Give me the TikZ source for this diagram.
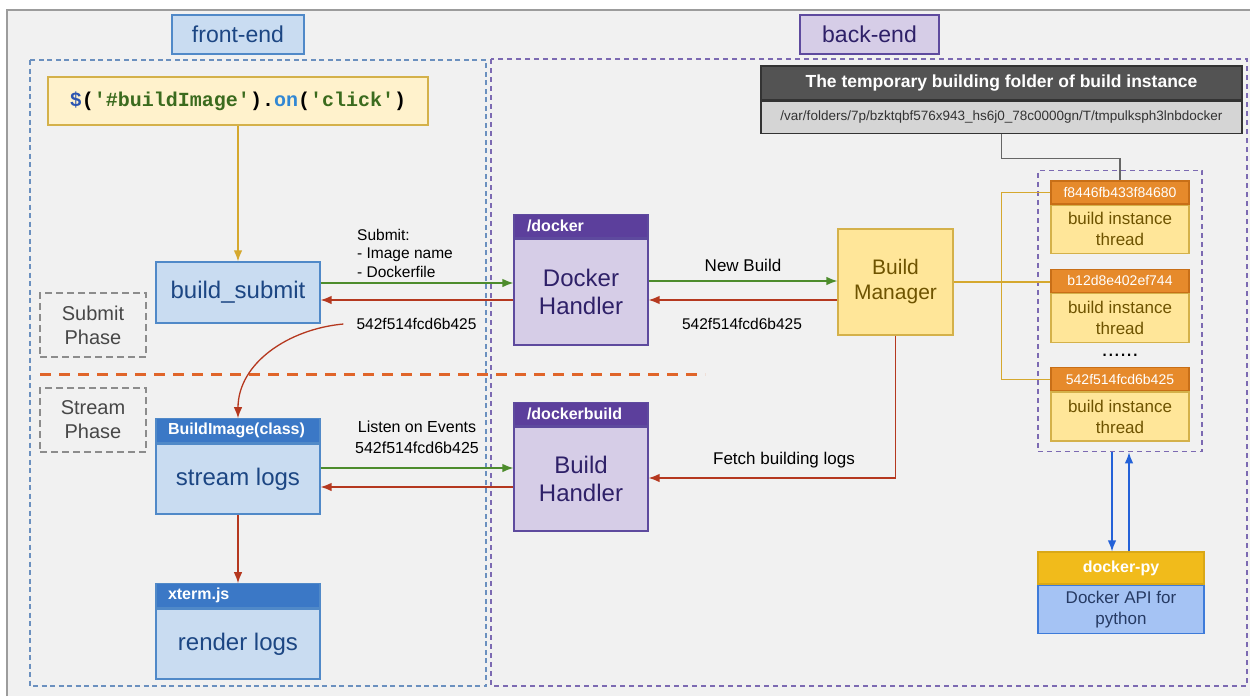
\documentclass[tikz,border=0pt]{standalone}
\usepackage{fontspec}
\setmainfont{Liberation Sans}
\setmonofont{Liberation Mono}
\usetikzlibrary{arrows,arrows.meta,shapes,positioning,fit}

\definecolor{panelbg}{HTML}{F1F1F1}
\definecolor{panelline}{HTML}{9C9C9C}
\definecolor{bfill}{HTML}{C9DCF1}
\definecolor{bline}{HTML}{5089C8}
\definecolor{bhead}{HTML}{3B78C6}
\definecolor{btext}{HTML}{1C4683}
\definecolor{pfill}{HTML}{D6CDE7}
\definecolor{pline}{HTML}{5E4A9E}
\definecolor{phead}{HTML}{5C3F9C}
\definecolor{ptext}{HTML}{2E2068}
\definecolor{yfill}{HTML}{FFE699}
\definecolor{yline}{HTML}{D4B14A}
\definecolor{ytext}{HTML}{6E5300}
\definecolor{cfill}{HTML}{FFF2CC}
\definecolor{ohead}{HTML}{E68A2B}
\definecolor{oline}{HTML}{C86F17}
\definecolor{gold}{HTML}{D5A82E}
\definecolor{pyhead}{HTML}{F1BB1B}
\definecolor{pyline}{HTML}{3E7BD9}
\definecolor{pyfill}{HTML}{A5C3F4}
\definecolor{pytext}{HTML}{263A63}
\definecolor{arrowgreen}{HTML}{4D8C2C}
\definecolor{arrowred}{HTML}{B5381F}
\definecolor{arrowblue}{HTML}{2462D8}
\definecolor{splitline}{HTML}{E0652A}
\definecolor{fdash}{HTML}{6B90BF}
\definecolor{bdash}{HTML}{7C6AB2}
\definecolor{fhead}{HTML}{535353}
\definecolor{ffill}{HTML}{D5D5D5}
\definecolor{codeblue}{HTML}{2C55B1}
\definecolor{codelblue}{HTML}{3288D4}
\definecolor{codegreen}{HTML}{3B6B1E}

\tikzstyle{title} = [line width=1.2pt, minimum height=39pt, inner sep=0pt, font=\fontsize{23}{27}\selectfont]
\tikzstyle{codebox} = [draw=yline, fill=cfill, line width=1.2pt, minimum width=380pt, minimum height=48pt, inner sep=0pt, font=\ttfamily\bfseries\fontsize{20}{24}\selectfont]
\tikzstyle{bluebox} = [draw=bline, fill=bfill, text=btext, line width=1.2pt, minimum width=164pt, inner sep=0pt, align=center, font=\fontsize{24}{28}\selectfont]
\tikzstyle{bluetop} = [draw=bline, fill=bhead, text=white, line width=1.2pt, text width=140pt, inner xsep=12pt, inner ysep=0pt, minimum height=24pt, align=left, font=\bfseries\fontsize{16}{18}\selectfont]
\tikzstyle{purplebox} = [draw=pline, fill=pfill, text=ptext, line width=1.2pt, minimum width=134pt, inner sep=0pt, align=center, font=\fontsize{24}{28}\selectfont]
\tikzstyle{purpletop} = [draw=pline, fill=phead, text=white, line width=1.2pt, text width=108pt, inner xsep=13pt, inner ysep=0pt, minimum height=23pt, align=left, font=\bfseries\fontsize{16}{18}\selectfont]
\tikzstyle{manager} = [draw=yline, fill=yfill, text=ytext, line width=1.2pt, minimum width=115pt, minimum height=106pt, inner sep=0pt, align=center, font=\fontsize{21}{25}\selectfont]
\tikzstyle{threadtop} = [draw=oline, fill=ohead, text=white, line width=1.2pt, minimum width=138pt, minimum height=23pt, inner sep=0pt, font=\fontsize{14}{16}\selectfont]
\tikzstyle{threadbox} = [draw=yline, fill=yfill, text=ytext, line width=1.2pt, minimum width=138pt, minimum height=48pt, inner sep=0pt, align=center, font=\fontsize{17}{21}\selectfont]
\tikzstyle{foldertop} = [draw=black!80, fill=fhead, text=white, line width=1.2pt, minimum width=481pt, minimum height=34pt, inner sep=0pt, font=\bfseries\fontsize{17.5}{20}\selectfont]
\tikzstyle{folderbox} = [draw=black!80, fill=ffill, text=black!80, line width=1.2pt, minimum width=481pt, minimum height=32pt, inner sep=0pt, font=\fontsize{13.5}{16}\selectfont]
\tikzstyle{pytop} = [draw=pyhead!90!black, fill=pyhead, text=white, line width=1.2pt, minimum width=166pt, minimum height=32pt, inner sep=0pt, font=\bfseries\fontsize{16}{18}\selectfont]
\tikzstyle{pybox} = [draw=pyline, fill=pyfill, text=pytext, line width=1.2pt, minimum width=166pt, minimum height=48pt, inner sep=0pt, align=center, font=\fontsize{17}{21}\selectfont]
\tikzstyle{phase} = [draw=black!45, line width=1.3pt, dash pattern=on 7pt off 4pt, text=black!72, minimum width=106pt, minimum height=64pt, inner sep=0pt, align=center, font=\fontsize{20}{24}\selectfont]
\tikzstyle{lbl} = [inner sep=0pt, font=\fontsize{15.5}{18.5}\selectfont]
\tikzstyle{garrow} = [->, draw=arrowgreen, line width=1.3pt]
\tikzstyle{rarrow} = [->, draw=arrowred, line width=1.3pt]
\tikzstyle{barrow} = [->, draw=arrowblue, line width=1.3pt]

\begin{document}
\begin{tikzpicture}[x=1pt, y=-1pt, >={Latex[length=11pt, width=8.5pt]}]

  % page and the grey panel behind everything
  \useasboundingbox (0,0) rectangle (1250,696);
  \fill[white] (0,0) rectangle (1250,696);
  \fill[panelbg] (7,10) rectangle (1250,696);
  \draw[panelline, line width=1.5pt] (7,696) -- (7,10) -- (1250,10);

  % the two halves
  \draw[fdash, line width=1.5pt, dash pattern=on 5pt off 3.5pt] (30,60) rectangle (486,686);
  \draw[bdash, line width=1.5pt, dash pattern=on 5pt off 4pt] (491,59) rectangle (1247,686);
  \node[title, draw=bline, fill=bfill, text=btext, minimum width=132pt] (front) at (238,34.5) {front-end};
  \node[title, draw=pline, fill=pfill, text=ptext, minimum width=139pt] (back) at (869.5,34.5) {back-end};

  % front-end
  \node[codebox] (click) at (238,101) {\color{codeblue}\$\color{black}(\color{codegreen}\textquotesingle\#buildImage\textquotesingle\color{black}).\color{codelblue}on\color{black}(\color{codegreen}\textquotesingle click\textquotesingle\color{black})};
  \node[bluebox, minimum height=61pt] (submit) at (238,292.5) {build\_submit};
  \node[bluebox, minimum height=70pt] (stream) at (238,479) {stream logs};
  \node[bluetop, above=0pt of stream] (streamtop) {BuildImage(class)};
  \node[bluebox, minimum height=70pt] (render) at (238,644) {render logs};
  \node[bluetop, above=0pt of render] (rendertop) {xterm.js};

  \node[phase] (submitphase) at (93,325) {Submit\\Phase};
  \node[phase] (streamphase) at (93,420) {Stream\\Phase};
  \draw[splitline, line width=3pt, dash pattern=on 11pt off 8pt] (40,374) -- (705,374);

  % back-end
  \node[purplebox, minimum height=106pt] (docker) at (581,292) {Docker\\Handler};
  \node[purpletop, above=0pt of docker] (dockertop) {/docker};
  \node[purplebox, minimum height=104pt] (build) at (581,479) {Build\\Handler};
  \node[purpletop, above=0pt of build] (buildtop) {/dockerbuild};
  \node[manager] (manager) at (895.5,282) {Build\\Manager};

  \node[foldertop] (foldertop) at (1001.5,83) {The temporary building folder of build instance};
  \node[folderbox, below=0pt of foldertop] (folder) {/var/folders/7p/bzktqbf576x943\_hs6j0\_78c0000gn/T/tmpulksph3lnbdocker};

  \node[threadtop] (t1top) at (1120,192.5) {f8446fb433f84680};
  \node[threadbox, below=0pt of t1top] (t1) {build instance\\thread};
  \node[threadtop, below=15pt of t1] (t2top) {b12d8e402ef744};
  \node[threadbox, below=0pt of t2top, minimum height=49pt] (t2) {build instance\\thread};
  \node[inner sep=0pt, font=\fontsize{22}{22}\selectfont] (dots) at (1120,355) {......};
  \node[threadtop, below=24pt of t2] (t3top) {542f514fcd6b425};
  \node[threadbox, below=0pt of t3top, minimum height=49pt] (t3) {build instance\\thread};
  \node[draw=bdash, line width=1.5pt, dash pattern=on 5pt off 4pt, fit=(t1top)(t3), inner xsep=12.5pt, inner ysep=10pt] (group) {};

  \node[pytop] (pytop) at (1121,568) {docker-py};
  \node[pybox, below=0pt of pytop] (py) {Docker API for\\python};

  % labels on the connectors
  \node[lbl, align=left, anchor=west] (sublbl) at (357,253) {Submit:\\- Image name\\- Dockerfile};
  \node[lbl] (hash1) at (416.5,324) {542f514fcd6b425};
  \node[lbl, align=center, font=\fontsize{16}{21}\selectfont] (listenlbl) at (417,437.5) {Listen on Events\\542f514fcd6b425};
  \node[lbl, font=\fontsize{17}{20}\selectfont] (newlbl) at (743,265) {New Build};
  \node[lbl] (hash2) at (742,324) {542f514fcd6b425};
  \node[lbl, font=\fontsize{17}{20}\selectfont] (fetchlbl) at (784,460) {Fetch building logs};

  % connectors
  \draw[->, gold, line width=1.3pt] (click) -- (submit);
  \draw[garrow] ([yshift=9.5pt]submit.east) -- ([yshift=9.5pt]submit.east -| docker.west);
  \draw[rarrow] ([yshift=-7.5pt]submit.east -| docker.west) -- ([yshift=-7.5pt]submit.east);
  \draw[rarrow] ([xshift=-13pt]hash1.west) .. controls +(-55,5) and +(0,-55) .. (streamtop.north);
  \draw[garrow] ([yshift=11pt]stream.east) -- ([yshift=11pt]stream.east -| build.west);
  \draw[rarrow] ([yshift=-8pt]stream.east -| build.west) -- ([yshift=-8pt]stream.east);
  \draw[rarrow] (stream) -- (rendertop);

  \draw[garrow] ([yshift=11pt]docker.east) -- ([yshift=11pt]docker.east -| manager.west);
  \draw[rarrow] ([yshift=-8pt]docker.east -| manager.west) -- ([yshift=-8pt]docker.east);
  \draw[rarrow] (manager.south) |- ([yshift=1pt]build.east);

  \draw[gold, line width=1.3pt] (manager.east) -- (manager.east -| t2top.west);
  \draw[gold, line width=1.3pt] (t1top.west) -- ++(-49,0) |- (t3top.west);
  \draw[black!60, line width=1.3pt] (folder.south) -- ++(0,25) -| (t1top.north);

  \draw[barrow] ([xshift=-8pt]group.south) -- ([xshift=-8pt]group.south |- pytop.north);
  \draw[barrow] ([xshift=9pt]group.south |- pytop.north) -- ([xshift=9pt]group.south);

\end{tikzpicture}
\end{document}
